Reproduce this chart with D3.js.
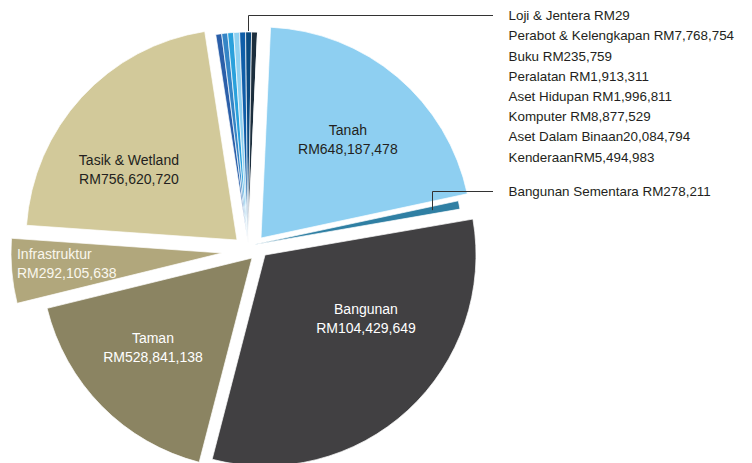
<!DOCTYPE html>
<html>
<head>
<meta charset="utf-8">
<script src="https://cdn.jsdelivr.net/npm/d3@7"></script>
<style>
    body { margin: 0; background: #fff; }
    text { font-family: "Liberation Sans", Arial, sans-serif; }
</style>
</head>
<body>
<svg id="pie-chart" width="752" height="463"></svg>
<script>
// slices, clockwise starting from Tanah
const names = [
    "Tanah", "Bangunan Sementara", "Bangunan", "Taman", "Infrastruktur", "Tasik & Wetland",
    "Kenderaan", "Aset Dalam Binaan", "Komputer", "Aset Hidupan", "Peralatan", "Buku",
    "Perabot & Kelengkapan", "Loji & Jentera"
];
const amounts = [
    "RM648,187,478", "RM278,211", "RM104,429,649", "RM528,841,138", "RM292,105,638", "RM756,620,720",
    "RM5,494,983", "20,084,794", "RM8,877,529", "RM1,996,811", "RM1,913,311", "RM235,759",
    "RM7,768,754", "RM29"
];
// size of each slice as drawn in the picture (degrees)
const shares = [75.3, 2.3, 114.3, 61.7, 17.8, 77.2, 1.63, 1.63, 1.63, 1.63, 1.63, 1.63, 1.62, 0];

// callout text on the right
const calloutLines = [
    "Loji & Jentera RM29",
    "Perabot & Kelengkapan RM7,768,754",
    "Buku RM235,759",
    "Peralatan RM1,913,311",
    "Aset Hidupan RM1,996,811",
    "Komputer RM8,877,529",
    "Aset Dalam Binaan20,084,794",
    "KenderaanRM5,494,983"
];
const calloutSingle = "Bangunan Sementara RM278,211";

const colors = [
    "#8ecff1", "#2f7fa3", "#414042", "#8b8462", "#b1a77c", "#d2c99a",
    "#2b5fa9", "#3585c6", "#2aa1dc", "#8fd1f1", "#0f5ea9", "#0b4a7f", "#1c2e3d", "#1c2e3d"
];
// how far each slice is pulled out of the pie [dx, dy]
const offsets = [
    [11, -8], [2, -1], [15, 9], [2, 12], [-28, 7], [-13, -6],
    [-2, -3], [-2, -3], [-2, -3], [-2, -3], [-2, -3], [-2, -3], [-2, -3], [-2, -3]
];
// label placement inside slices: [angle deg, distance, anchor, color]
const labelPlaces = {
    0: [41.4, 131.4, "middle", "#231f20"],
    2: [122.2, 119.3, "middle", "#ffffff"],
    3: [227.9, 133.5, "middle", "#ffffff"],
    4: [267.1, 205.3, "start", "#faf7ee"],
    5: [303.1, 129, "middle", "#231f20"]
};

const cx = 250, cy = 246, radius = 211;
const rad = Math.PI / 180;
const start = 2.6 * rad;

const svg = d3.select("#pie-chart");

const pie = d3.pie().sort(null).value(function (d) { return d; })
    .startAngle(start).endAngle(start + 2 * Math.PI);
const arcs = pie(shares);
const arc = d3.arc().innerRadius(0).outerRadius(radius);

function centerOf(i) {
    return [cx + offsets[i][0], cy + offsets[i][1]];
}
function polar(c, angle, dist) {
    return [c[0] + dist * Math.sin(angle), c[1] - dist * Math.cos(angle)];
}

svg.append("g")
    .selectAll("path")
    .data(arcs)
    .join("path")
    .attr("transform", function (d, i) { return `translate(${centerOf(i)})`; })
    .attr("d", arc)
    .attr("fill", function (d, i) { return colors[i]; })
    .attr("stroke", "#fff")
    .attr("stroke-width", 0.7);

// labels inside the big slices
Object.keys(labelPlaces).forEach(function (k) {
    const i = +k;
    const p = labelPlaces[i];
    const pos = polar(centerOf(i), p[0] * rad, p[1]);
    const t = svg.append("text")
        .attr("text-anchor", p[2])
        .attr("fill", p[3])
        .attr("font-size", 14);
    t.append("tspan").attr("x", pos[0]).attr("y", pos[1] - 4.5).text(names[i]);
    t.append("tspan").attr("x", pos[0]).attr("y", pos[1] + 14.5).text(amounts[i]);
});

// callout list
const textX = 508.5, lineEnd = 493;
const firstY = 15.5, step = 20.2;
svg.append("g")
    .selectAll("text")
    .data(calloutLines)
    .join("text")
    .attr("x", textX)
    .attr("y", function (d, i) { return firstY + 4.7 + i * step; })
    .attr("font-size", 13.4)
    .attr("fill", "#231f20")
    .text(function (d) { return d; });

const singleY = 191.5;
svg.append("text")
    .attr("x", textX)
    .attr("y", singleY + 4.7)
    .attr("font-size", 13.4)
    .attr("fill", "#231f20")
    .text(calloutSingle);

// leader lines
const smallIdx = 11;
const a1 = (arcs[smallIdx].startAngle + arcs[smallIdx].endAngle) / 2;
const p1 = polar(centerOf(smallIdx), a1, radius + 1);
const x1 = Math.round(p1[0]) - 0.5;
const a2 = (arcs[1].startAngle + arcs[1].endAngle) / 2;
const p2 = polar(centerOf(1), a2, radius * 0.87);
const x2 = Math.round(p2[0]) + 0.5;

const line = d3.line();
svg.append("path")
    .attr("d", line([[x1, p1[1]], [x1, firstY], [lineEnd, firstY]]))
    .attr("fill", "none")
    .attr("stroke", "#333")
    .attr("stroke-width", 1);
svg.append("path")
    .attr("d", line([[x2, p2[1]], [x2, singleY], [lineEnd, singleY]]))
    .attr("fill", "none")
    .attr("stroke", "#333")
    .attr("stroke-width", 1);
</script>
</body>
</html>
